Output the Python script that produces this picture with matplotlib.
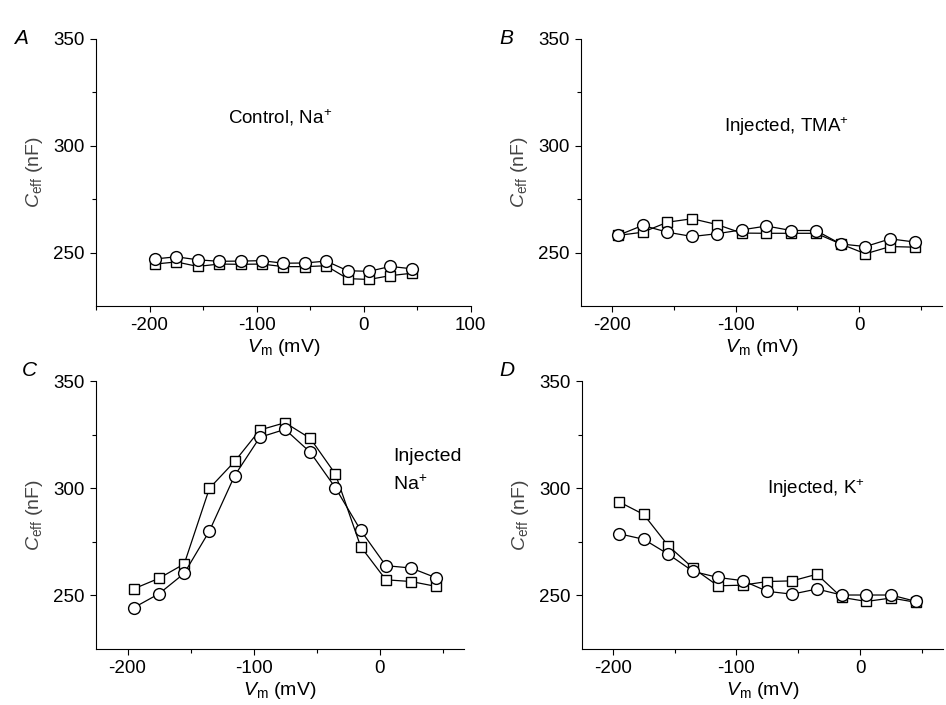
import matplotlib
matplotlib.use('Agg')
import matplotlib.pyplot as plt

plt.rcParams['font.family'] = ['Liberation Sans', 'DejaVu Sans']
plt.rcParams['mathtext.fontset'] = 'custom'
plt.rcParams['mathtext.rm'] = 'Liberation Sans'
plt.rcParams['mathtext.it'] = 'Liberation Sans:italic'
plt.rcParams['axes.unicode_minus'] = False

vm = [-195, -175, -155, -135, -115, -95, -75, -55, -35, -15, 5, 25, 45]

a_sq = [244.6, 245.6, 243.5, 244.6, 244.5, 244.6, 243.4, 243.4, 243.8, 237.8, 237.4, 239.2, 240.3]
a_ci = [247.0, 248.0, 246.6, 245.9, 246.0, 246.2, 245.0, 245.1, 246.0, 241.5, 241.2, 243.5, 242.4]

b_sq = [258.0, 259.5, 264.2, 265.8, 263.1, 259.1, 259.0, 259.0, 259.0, 254.0, 249.4, 252.8, 252.5]
b_ci = [258.0, 262.7, 259.5, 257.5, 258.8, 260.6, 262.4, 260.3, 260.3, 254.0, 252.8, 256.4, 254.9]

c_sq = [253.1, 258.0, 264.7, 300.0, 312.5, 327.2, 330.6, 323.3, 306.6, 272.8, 257.3, 256.5, 254.2]
c_ci = [244.3, 250.8, 260.3, 280.1, 305.9, 323.8, 327.5, 316.8, 300.2, 280.4, 263.9, 262.8, 258.2]

d_sq = [293.7, 287.8, 273.1, 262.7, 254.5, 254.8, 256.5, 256.8, 259.9, 249.1, 247.2, 248.8, 246.8]
d_ci = [278.8, 276.2, 269.2, 261.2, 258.4, 256.9, 251.9, 250.6, 253.0, 250.2, 250.2, 250.2, 247.2]

panels = [
    ('A', a_sq, a_ci, (-250, 100), 'Control, Na$^{+}$', (-78, 313)),
    ('B', b_sq, b_ci, (-225, 67), 'Injected, TMA$^{+}$', (-59, 309)),
    ('C', c_sq, c_ci, (-225, 67), 'Injected\nNa$^{+}$', (11, 308)),
    ('D', d_sq, d_ci, (-225, 67), 'Injected, K$^{+}$', (-36, 300)),
]

rects = [
    [0.1015, 0.566, 0.396, 0.379],
    [0.614, 0.566, 0.382, 0.379],
    [0.1015, 0.0794, 0.389, 0.380],
    [0.615, 0.0794, 0.382, 0.380],
]
letter_pos = [(0.015, 0.945), (0.528, 0.945), (0.023, 0.475), (0.528, 0.475)]

fig = plt.figure(figsize=(9.46, 7.05), dpi=100)

for (letter, sq, ci, xlim, label, tpos), r, lp in zip(panels, rects, letter_pos):
    ax = fig.add_axes(r)
    ax.plot(vm, sq, '-s', color='black', lw=0.9, ms=7.5, mfc='white', mec='black', mew=1.0)
    ax.plot(vm, ci, '-o', color='black', lw=0.9, ms=8.5, mfc='white', mec='black', mew=1.0)
    ax.set_xlim(*xlim)
    ax.set_ylim(225, 350)
    ax.set_yticks([250, 300, 350])
    ax.set_yticks([275, 325], minor=True)
    ax.set_xticks([-200, -100, 0, 100] if letter == 'A' else [-200, -100, 0])
    ax.set_xticks([-250, -150, -50, 50] if letter == 'A' else [-150, -50, 50], minor=True)
    ax.spines['top'].set_visible(False)
    ax.spines['right'].set_visible(False)
    ax.tick_params(direction='out', length=4, width=0.8, labelsize=13.5, pad=4)
    ax.tick_params(which='minor', direction='out', length=3, width=0.8)
    ax.set_xlabel(r'$\mathit{V}_{\mathrm{m}}$ (mV)', fontsize=14, labelpad=2)
    ax.set_ylabel(r'$\mathit{C}_{\mathrm{eff}}$ (nF)', fontsize=14, color='#444444', labelpad=6)
    if letter == 'C':
        ax.text(tpos[0], tpos[1], label, fontsize=14, ha='left', va='center', linespacing=1.6)
    else:
        ax.text(tpos[0], tpos[1], label, fontsize=13.5, ha='center', va='center')
    fig.text(lp[0], lp[1], letter, fontsize=15, fontstyle='italic', ha='left', va='center')

fig.savefig('out.png', dpi=100)
